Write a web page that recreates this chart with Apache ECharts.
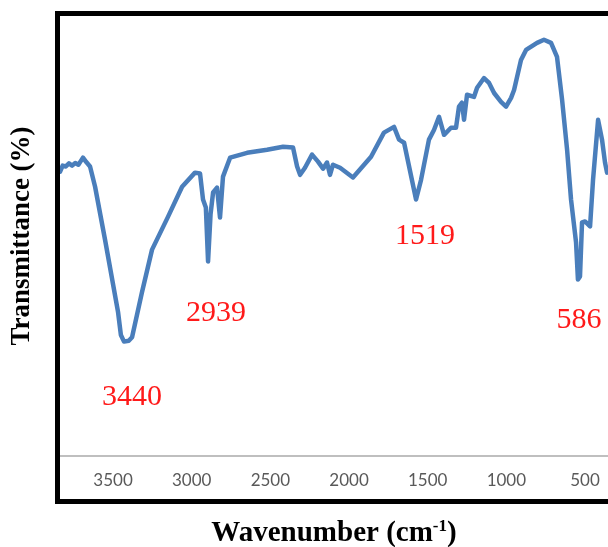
<!DOCTYPE html>
<html>
<head>
<meta charset="utf-8">
<script src="https://cdn.jsdelivr.net/npm/echarts@6/dist/echarts.min.js"></script>
<style>html,body{margin:0;padding:0;background:#fff}#c{width:608px;height:547px}</style>
</head>
<body>
<div id="c"></div>
<script>
const wavenumber = [3837,3820,3800,3780,3760,3740,3720,3700,3691,3670,3646,3614,3551,3468,3450,3430,3400,3379,3316,3252,3150,3061,2979,2947,2928,2910,2896,2880,2864,2839,2820,2801,2756,2648,2521,2419,2356,2330,2311,2280,2235,2197,2165,2140,2121,2102,2057,1975,1860,1778,1714,1682,1650,1574,1542,1492,1460,1428,1396,1352,1320,1301,1282,1269,1250,1206,1186,1142,1110,1078,1034,1002,970,951,907,875,805,761,716,678,646,614,589,557,545,532,519,500,468,449,417,392,373,360];
const transmittance = [64.6,66.0,65.8,66.5,66.0,66.6,66.2,67.3,67.8,66.8,65.8,61.2,49.2,32.7,27.5,26.0,26.2,27.0,37.2,46.9,54.4,61.2,64.4,64.2,58.3,56.5,44.2,55.0,59.9,61.0,54.2,63.5,67.8,68.9,69.6,70.3,70.1,65.8,63.9,65.5,68.5,66.9,65.3,66.7,63.9,66.2,65.5,63.3,68.0,73.5,74.8,71.9,71.2,58.3,62.8,71.9,74.1,77.1,73.0,74.6,74.6,79.4,80.3,76.4,82.1,81.6,83.7,85.9,84.8,82.5,80.5,79.4,81.4,83.2,90.0,92.3,93.9,94.6,93.9,90.7,81.0,69.6,58.3,48.5,40.1,40.8,53.1,53.3,52.2,62.8,76.4,71.9,66.7,64.4];
const tickValues = [500,1000,1500,2000,2500,3000,3500];
const peakLabels = ['3440','2939','1519','586'];

const chart = echarts.init(document.getElementById('c'), null, {renderer:'canvas'});
const serif = '"Liberation Serif","Times New Roman",serif';
chart.setOption({
  animation:false,
  grid:{left:60, right:0, top:16, bottom:91, outerBoundsMode:'none', containLabel:false},
  xAxis:{
    type:'value', inverse:true, min:354, max:3837,
    axisLine:{show:true, lineStyle:{color:'#bfbfbf', width:2}},
    axisTick:{show:false},
    splitLine:{show:false},
    axisLabel:{customValues:tickValues, formatter:(v)=>String(v), color:'#595959', fontFamily:'Lato, sans-serif', fontSize:17, margin:16},
    name:'{a|Wavenumber (cm}{b|-1}{a|)}',
    nameLocation:'middle', nameGap:62,
    nameTextStyle:{rich:{
      a:{fontFamily:serif, fontWeight:'bold', fontSize:29, color:'#000'},
      b:{fontFamily:serif, fontWeight:'bold', fontSize:17, color:'#000', verticalAlign:'top', padding:[0,0,14,0]}
    }}
  },
  yAxis:{
    type:'value', min:0, max:100,
    axisLine:{show:false}, axisTick:{show:false}, axisLabel:{show:false}, splitLine:{show:false},
    name:'Transmittance (%)', nameLocation:'middle', nameGap:24, nameRotate:90,
    nameTextStyle:{fontFamily:serif, fontWeight:'bold', fontSize:27, color:'#000'}
  },
  series:[{
    type:'line', showSymbol:false, symbol:'none',
    data: wavenumber.map((w,i)=>[w, transmittance[i]]),
    lineStyle:{color:'#4a7ebb', width:4.5, join:'round', cap:'round'}
  }],
  graphic:[
    {type:'rect', shape:{x:57.5, y:13.5, width:570, height:488}, style:{fill:'none', stroke:'#000', lineWidth:5}, z:100},
    {type:'text', x:132, y:397, style:{text:peakLabels[0], fill:'#ff1a1a', font:'30px '+serif, textAlign:'center', textVerticalAlign:'middle'}},
    {type:'text', x:216, y:313, style:{text:peakLabels[1], fill:'#ff1a1a', font:'30px '+serif, textAlign:'center', textVerticalAlign:'middle'}},
    {type:'text', x:425, y:236, style:{text:peakLabels[2], fill:'#ff1a1a', font:'30px '+serif, textAlign:'center', textVerticalAlign:'middle'}},
    {type:'text', x:579, y:320, style:{text:peakLabels[3], fill:'#ff1a1a', font:'30px '+serif, textAlign:'center', textVerticalAlign:'middle'}}
  ]
});
</script>
</body>
</html>
